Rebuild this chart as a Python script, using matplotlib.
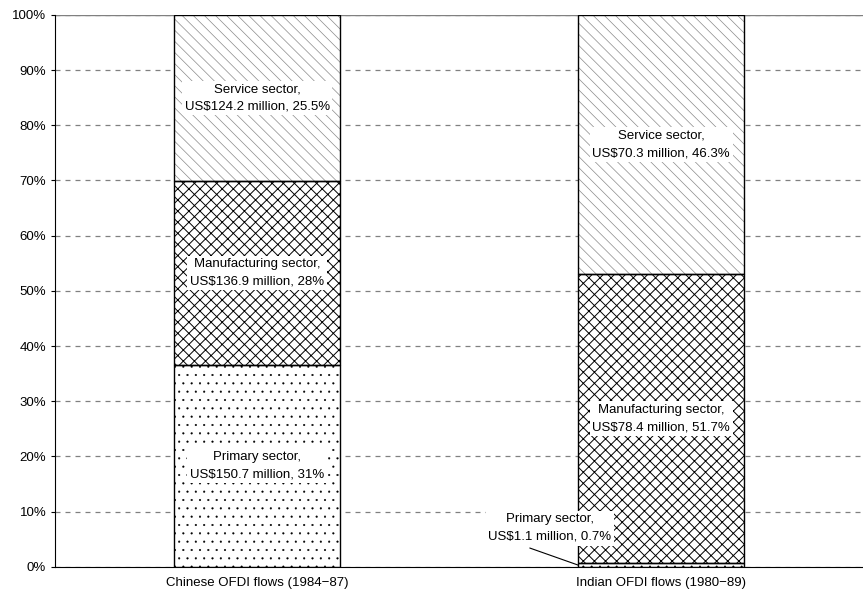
import numpy as np
import matplotlib
matplotlib.use('Agg')
import matplotlib.pyplot as plt

plt.rcParams['font.family'] = ['Liberation Sans', 'DejaVu Sans']

# data
groups = ['Chinese OFDI flows (1984\u221287)', 'Indian OFDI flows (1980\u221289)']
sectors = ['Primary sector', 'Manufacturing sector', 'Service sector']
values = {
    'Primary sector': [150.7, 1.1],
    'Manufacturing sector': [136.9, 78.4],
    'Service sector': [124.2, 70.3],
}
pct_labels = {
    'Primary sector': ['31%', '0.7%'],
    'Manufacturing sector': ['28%', '51.7%'],
    'Service sector': ['25.5%', '46.3%'],
}
hatches = {'Primary sector': '..', 'Manufacturing sector': 'xxx', 'Service sector': '\\\\\\'}
hatch_lw = {'Primary sector': 0.3, 'Manufacturing sector': 0.7, 'Service sector': 0.5}
hatch_col = {'Primary sector': 'black', 'Manufacturing sector': 'black', 'Service sector': '#8a8a8a'}

totals = np.array([sum(values[s][i] for s in sectors) for i in range(len(groups))])

fig = plt.figure(figsize=(8.63, 5.96), dpi=100)
ax = fig.add_axes([0.064, 0.049, 0.936, 0.926])

x = np.arange(len(groups))
bottom = np.zeros(len(groups))
for s in sectors:
    share = np.array(values[s]) / totals * 100
    # hatch layer (hatch takes the edge colour), then a black outline on top
    with plt.rc_context({'hatch.linewidth': hatch_lw[s]}):
        bars = ax.bar(x, share, 0.41, bottom=bottom, color='white', edgecolor=hatch_col[s],
                      linewidth=0, hatch=hatches[s], zorder=2)
    for b in bars:
        if hasattr(b, 'set_hatch_linewidth'):
            b.set_hatch_linewidth(hatch_lw[s])
    ax.bar(x, share, 0.41, bottom=bottom, color='none', edgecolor='black',
           linewidth=1.0, zorder=2.5)
    for i in range(len(groups)):
        txt = '%s,\nUS$%s million, %s' % (s, values[s][i], pct_labels[s][i])
        mid = bottom[i] + share[i] / 2
        box = dict(boxstyle='square,pad=0.2', fc='white', ec='none')
        if share[i] < 3:
            ax.text(x[i] - 0.275, 7.0, txt, ha='center', va='center', fontsize=9.5,
                    linespacing=1.6, bbox=box, zorder=4)
            ax.annotate('', xy=(x[i] - 0.205, bottom[i] + 0.3), xytext=(x[i] - 0.325, 3.4),
                        arrowprops=dict(arrowstyle='-', color='black', lw=0.8,
                                        shrinkA=0, shrinkB=0), zorder=4)
        else:
            ax.text(x[i], mid, txt, ha='center', va='center', fontsize=9.5,
                    linespacing=1.6, bbox=box, zorder=3)
    bottom += share

ax.set_xlim(-0.5, 1.5)
ax.set_ylim(0, 100)
ax.set_yticks(np.arange(0, 101, 10))
ax.set_yticklabels(['%d%%' % v for v in range(0, 101, 10)], fontsize=9.5)
ax.set_xticks(x)
ax.set_xticklabels(groups, fontsize=9.5)
ax.tick_params(axis='x', length=0, pad=7)
ax.tick_params(axis='y', length=3, direction='out')
ax.yaxis.grid(True, linestyle=(0, (4, 4)), color='#808080', linewidth=0.9, zorder=0)
ax.set_axisbelow(True)
ax.axhline(100, color='#808080', linewidth=1.0, zorder=1)
ax.spines['top'].set_visible(False)
ax.spines['right'].set_visible(False)
ax.spines['left'].set_color('black')
ax.spines['bottom'].set_color('black')

fig.savefig('out.png', dpi=100)
